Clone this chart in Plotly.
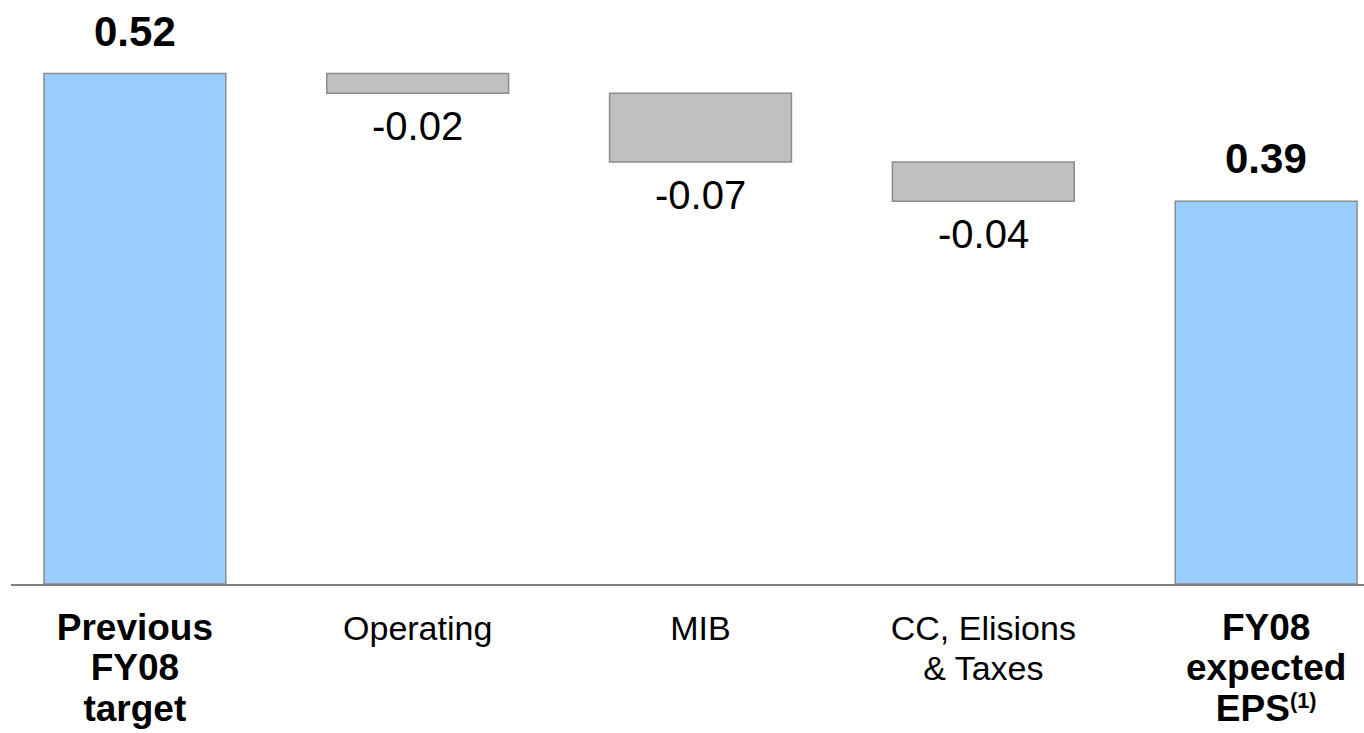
import plotly.graph_objects as go

categories = ["Previous FY08 target", "Operating", "MIB", "CC, Elisions & Taxes", "FY08 expected EPS(1)"]
values = [0.52, -0.02, -0.07, -0.04, 0.39]
measures = ["absolute", "relative", "relative", "relative", "total"]
tick_labels = [
    "<b><span style='font-size:37px'>Previous</span></b><br><b><span style='font-size:37px'>FY08</span></b><br><b><span style='font-size:37px'>target</span></b>",
    "<span style='font-size:34px'>Operating</span>",
    "<span style='font-size:34px'>MIB</span>",
    "<span style='font-size:34px'>CC, Elisions</span><br><span style='font-size:34px'>&amp; Taxes</span>",
    "<b><span style='font-size:37px'>FY08</span></b><br><b><span style='font-size:37px'>expected</span></b><br><b><span style='font-size:37px'>EPS</span><span style='font-size:31px'><sup>(1)</sup></span></b>",
]
value_labels = ["0.52", "-0.02", "-0.07", "-0.04", "0.39"]

FONT = "Liberation Sans, Arial, sans-serif"
BLUE = "#99CCFF"
GREY = "#C0C0C0"
EDGE = "#8C8C8C"

fig = go.Figure()
fig.add_trace(go.Waterfall(
    x=categories,
    y=values,
    measure=measures,
    width=0.643,
    connector=dict(visible=False),
    increasing=dict(marker=dict(color=BLUE, line=dict(color=EDGE, width=1.5))),
    decreasing=dict(marker=dict(color=GREY, line=dict(color=EDGE, width=1.5))),
    totals=dict(marker=dict(color=BLUE, line=dict(color=EDGE, width=1.5))),
    hoverinfo="skip",
    showlegend=False,
))

# value label annotations, positioned from the data
running = 0.0
for cat, v, m, lab in zip(categories, values, measures, value_labels):
    if m == "relative":
        bottom = running + v
        fig.add_annotation(x=cat, y=bottom, text=lab, showarrow=False,
                           yanchor="top", yshift=-9,
                           font=dict(family=FONT, size=40, color="black"))
        running = bottom
    else:
        running = v
        fig.add_annotation(x=cat, y=v, text="<b>" + lab + "</b>", showarrow=False,
                           yanchor="bottom", yshift=17,
                           font=dict(family=FONT, size=42, color="black"))

fig.update_layout(
    width=1364, height=733,
    margin=dict(l=11, r=0, t=0, b=149),
    paper_bgcolor="white", plot_bgcolor="white",
    font=dict(family=FONT, color="black"),
    xaxis=dict(
        range=[-0.438, 4.346],
        tickvals=categories, ticktext=tick_labels,
        tickfont=dict(family=FONT, size=31, color="black"),
        showline=True, linecolor="#808080", linewidth=1.5,
        showgrid=False, zeroline=False, ticks="",
        ticklabelstandoff=17,
    ),
    yaxis=dict(range=[0, 0.595], visible=False, showgrid=False, zeroline=False),
)

fig.write_html("out.html")
